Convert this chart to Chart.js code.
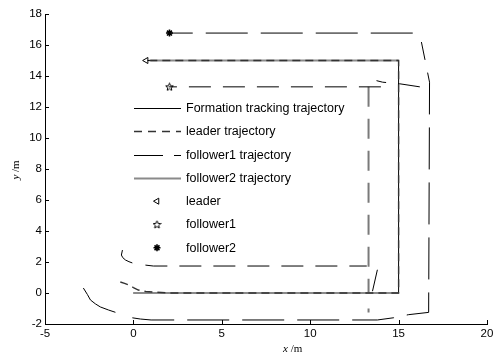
<!DOCTYPE html>
<html><head><meta charset="utf-8">
<script src="https://cdn.jsdelivr.net/npm/chart.js@4.4.1/dist/chart.umd.min.js"></script>
<style>html,body{margin:0;padding:0;background:#fff}canvas{display:block}</style>
</head><body>
<canvas id="c" width="495" height="356"></canvas>
<script>
// ---- data ----
const xMin = -5, xMax = 20, xStep = 5;
const yMin = -2, yMax = 18, yStep = 2;

const formationX = [0, 15, 15, 0.8];
const formationY = [0, 0, 15, 15];

const leaderX = [-0.74, -0.5, -0.28, 0.0, 0.28, 0.7, 1.13, 2.0, 15, 15, 0.8];
const leaderY = [0.71, 0.62, 0.52, 0.35, 0.19, 0.1, 0.06, 0, 0, 15, 15];

const follower1X = [-2.83, -2.6, -2.43, -2.15, -1.87, -1.4, -0.9, null, -0.06, 0.4, 1.0, 13.8, 14.7, 15.55, 16.7, 16.75, 16.29, null, 15.8, 2.0];
const follower1Y = [0.32, -0.1, -0.45, -0.7, -0.9, -1.1, -1.29, null, -1.6, -1.68, -1.74, -1.74, -1.6, -1.4, -1.25, 13.6, 16.19, null, 16.77, 16.77];

const follower2X = [0, 15, null, 15, 0.96];
const follower2Y = [0, 0, null, 15, 15];

const innerX = [-0.62, -0.68, -0.6, -0.45, -0.25, -0.06, null, 0.68, 1.13, 13.2, null, 13.8, 13.5, null, 16.2, 15.05, 14.1, 13.75, null, 14.0, 2.0];
const innerY = [2.77, 2.45, 2.28, 2.13, 2.02, 1.94, null, 1.8, 1.74, 1.74, null, 1.5, 0, null, 13.3, 13.5, 13.6, 13.7, null, 13.3, 13.3];

const crossX = [13.3, 13.3, null, 13.3, 13.3];
const crossY = [13.3, 0, null, -1.0, -1.25];

const leaderMarkX = [0.72], leaderMarkY = [15];
const f1MarkX = [2.04], f1MarkY = [13.3];
const f2MarkX = [2.04], f2MarkY = [16.77];

const legendLabels = ['Formation tracking trajectory','leader trajectory','follower1 trajectory','follower2 trajectory','leader','follower1','follower2'];

// ---- helpers ----
const pts = (xs, ys) => xs.map((x, i) => ({x: x === null ? NaN : x, y: ys[i]}));

function starCanvas(){
  const c = document.createElement('canvas'); c.width = 9; c.height = 9;
  const g = c.getContext('2d');
  g.strokeStyle = '#000'; g.lineWidth = 1;
  g.beginPath();
  for (let k = 0; k < 10; k++){
    const r = k % 2 === 0 ? 4 : 1.8;
    const a = -Math.PI/2 + k*Math.PI/5;
    const px = 4.5 + r*Math.cos(a), py = 4.8 + r*Math.sin(a);
    k === 0 ? g.moveTo(px, py) : g.lineTo(px, py);
  }
  g.closePath(); g.stroke();
  return c;
}
const star5 = starCanvas();

const lineDs = (label, xs, ys, color, width, dash, order) => ({
  label, data: pts(xs, ys), showLine: true, borderColor: color, borderWidth: width,
  borderDash: dash, pointRadius: 0, pointHoverRadius: 0, tension: 0, spanGaps: false,
  fill: false, order, borderCapStyle: 'butt', borderJoinStyle: 'miter'
});

const legendStyles = [
  {kind:'line', color:'#000', width:1, dash:[]},
  {kind:'line', color:'#333', width:1.3, dash:[8,6]},
  {kind:'line', color:'#000', width:1, dash:[29,11]},
  {kind:'line', color:'#8a8a8a', width:2, dash:[]},
  {kind:'point', pointStyle:'triangle', rotation:-90, radius:3.5, fill:'rgba(0,0,0,0)'},
  {kind:'point', pointStyle:star5, rotation:0, radius:4, fill:'#000'},
  {kind:'point', pointStyle:'star', rotation:0, radius:3.5, fill:'#000', bw:1.6}
];

const FONT = '"Liberation Sans", Arial, sans-serif';
const SERIF = '"Liberation Serif", "Times New Roman", serif';

const inwardTicks = {
  id: 'inwardTicks',
  afterDraw(chart){
    const {ctx, scales:{x, y}, chartArea:a} = chart;
    ctx.save(); ctx.strokeStyle = '#000'; ctx.lineWidth = 1;
    ctx.beginPath();
    x.ticks.forEach(t => { const p = Math.round(x.getPixelForValue(t.value)) + 0.5; ctx.moveTo(p, a.bottom); ctx.lineTo(p, a.bottom - 4); });
    y.ticks.forEach(t => { const p = Math.round(y.getPixelForValue(t.value)) + 0.5; ctx.moveTo(a.left, p); ctx.lineTo(a.left + 4, p); });
    ctx.stroke();
    // axis titles
    ctx.fillStyle = '#000';
    ctx.textBaseline = 'alphabetic';
    ctx.font = 'italic 11px ' + SERIF;
    const w1 = ctx.measureText('x').width;
    ctx.fillText('x', 283, 352);
    ctx.font = '11px ' + SERIF;
    ctx.fillText(' /m', 283 + w1, 352);
    ctx.save();
    ctx.translate(19, 170); ctx.rotate(-Math.PI/2);
    ctx.font = 'italic 11px ' + SERIF;
    const wy = ctx.measureText('y').width;
    ctx.font = '11px ' + SERIF;
    const wr = ctx.measureText(' /m').width;
    const sx = -(wy + wr)/2;
    ctx.font = 'italic 11px ' + SERIF;
    ctx.fillText('y', sx, 0);
    ctx.font = '11px ' + SERIF;
    ctx.fillText(' /m', sx + wy, 0);
    ctx.restore();
    ctx.restore();
  }
};

const customLegend = {
  id: 'customLegend',
  afterDraw(chart){
    const ctx = chart.ctx;
    ctx.save();
    ctx.font = '12.5px ' + FONT;
    ctx.textBaseline = 'middle';
    legendLabels.forEach((label, i) => {
      const yy = 108 + i*23.3;
      const s = legendStyles[i];
      if (s.kind === 'line'){
        ctx.beginPath(); ctx.setLineDash(s.dash); ctx.strokeStyle = s.color; ctx.lineWidth = s.width;
        ctx.moveTo(134, Math.round(yy)+0.5); ctx.lineTo(181, Math.round(yy)+0.5); ctx.stroke(); ctx.setLineDash([]);
      } else {
        ctx.strokeStyle = '#000'; ctx.fillStyle = s.fill; ctx.lineWidth = s.bw || 1;
        Chart.helpers.drawPoint(ctx, {pointStyle: s.pointStyle, rotation: s.rotation, radius: s.radius, borderWidth: s.bw || 1}, 157, yy);
      }
      ctx.fillStyle = '#000';
      ctx.fillText(label, 186, yy + 0.5);
    });
    ctx.restore();
  }
};

new Chart(document.getElementById('c'), {
  type: 'scatter',
  data: {
    datasets: [
      lineDs('Formation tracking trajectory', formationX, formationY, '#000', 1, [], 8),
      lineDs('leader trajectory', leaderX, leaderY, '#333', 1.4, [8,5], 3),
      lineDs('follower1 trajectory', follower1X, follower1Y, '#000', 1, [42,13], 2),
      lineDs('follower2 trajectory', follower2X, follower2Y, '#8a8a8a', 2, [], 6),
      lineDs('inner', innerX, innerY, '#000', 1, [22,12], 2),
      lineDs('cross', crossX, crossY, '#7a7a7a', 2, [20,12], 5),
      {label:'leader', data: pts(leaderMarkX, leaderMarkY), pointStyle:'triangle', rotation:-90, pointRadius:3.5, borderColor:'#000', backgroundColor:'rgba(0,0,0,0)', borderWidth:1, showLine:false, order:0},
      {label:'follower1', data: pts(f1MarkX, f1MarkY), pointStyle:star5, pointRadius:4, borderColor:'#000', backgroundColor:'#000', showLine:false, order:0},
      {label:'follower2', data: pts(f2MarkX, f2MarkY), pointStyle:'star', pointRadius:3.5, borderColor:'#000', backgroundColor:'#000', borderWidth:1.6, showLine:false, order:0}
    ]
  },
  options: {
    responsive: false,
    animation: false,
    events: [],
    layout: {padding: {left: 0, top: 14, right: 8, bottom: 0}},
    plugins: {legend: {display: false}, tooltip: {enabled: false}},
    scales: {
      x: {
        type: 'linear', min: xMin, max: xMax,
        ticks: {stepSize: xStep, color: '#000', font: {family: FONT, size: 11.5}, padding: 3, maxRotation: 0},
        grid: {display: true, drawOnChartArea: false, drawTicks: false},
        border: {display: true, color: '#000', width: 1},
        afterFit(s){ s.height = 32; s.paddingLeft = 0; s.paddingRight = 0; }
      },
      y: {
        type: 'linear', min: yMin, max: yMax,
        ticks: {stepSize: yStep, color: '#000', font: {family: FONT, size: 11.5}, padding: 3},
        grid: {display: true, drawOnChartArea: false, drawTicks: false},
        border: {display: true, color: '#000', width: 1},
        afterFit(s){ s.width = 45; s.paddingTop = 0; s.paddingBottom = 0; }
      }
    }
  },
  plugins: [inwardTicks, customLegend]
});
</script>
</body></html>
